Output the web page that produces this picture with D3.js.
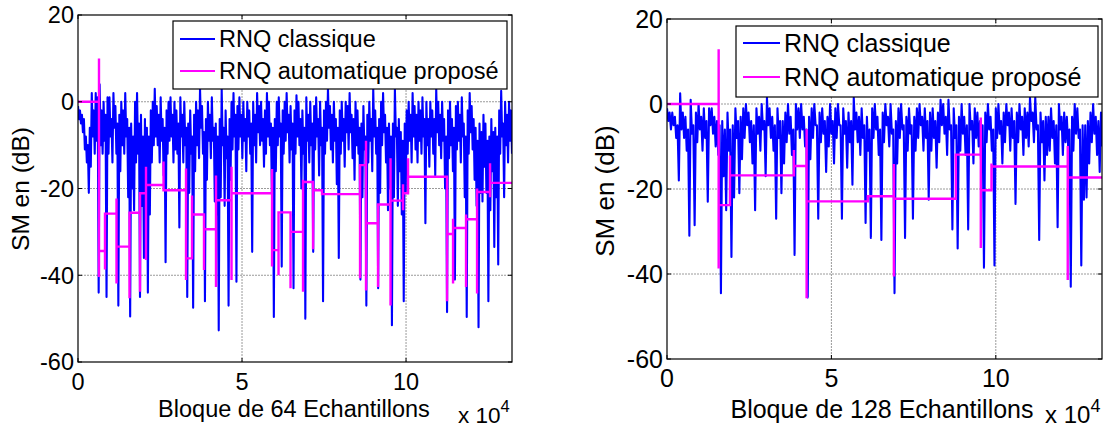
<!DOCTYPE html>
<html>
<head>
<meta charset="utf-8">
<script src="https://cdn.jsdelivr.net/npm/d3@7"></script>
<style>
  body { margin: 0; background: #fff; }
  text { font-family: Arial, "Liberation Sans", sans-serif; fill: #000; }
</style>
</head>
<body>
<svg id="chart" width="1104" height="428"></svg>
<script>
// axis ticks
var xTicks = [0, 50000, 100000];
var xTickLabels = ["0", "5", "10"];
var yTicks = [20, 0, -20, -40, -60];
var legendLabels = ["RNQ classique", "RNQ automatique proposé"];

// ---- left panel : blocks of 64 samples ----
// classic RNQ, max / min of each 600-sample bin (dB)
var blue64Step = 600;
var blue64Hi = [
  -1, -2, -3, -4, -8, -10, -6, 2, -2, 2,
  1, 4, -2, 0, -3, 1, 1, -4, 2, -1,
  -5, -3, 0, -2, 2, -4, -6, -5, -8, 0,
  2, -5, -3, -8, -4, -6, -8, -2, 0, 3,
  -1, -3, 1, -4, -6, -2, 0, 1, -3, 0,
  -2, -5, 1, -3, 0, -6, -5, -2, -8, -3,
  0, -2, 3, -1, -7, -4, 0, -3, 1, -6,
  -5, -8, -4, 3, -6, -2, -8, -4, 0, 2,
  -3, -1, 1, -3, 0, -4, 0, -2, -5, 0,
  -3, 2, -1, 0, -4, -2, 2, 0, -5, -6,
  -4, 0, 1, -5, -2, 0, 2, -3, -1, -5,
  -2, 1.5, 0, -4, -2, -6, 1, -3, 0, -5,
  -1, 1, -4, 0, -6, -2, 0, 3, -1, -3,
  0, -4, -6, -2, 0, -4, 0, -1, 2, -3,
  -4, 0, -2, -6, -5, -1, -8, -3, 0, -4,
  3, -2, -6, -4, 0, 2, -3, -6, -5, -8,
  -5, 3, -6, -4, -7, -9, -5, -2, 0, -3,
  2, -1, -3, 0, -2, 1, -4, 0, -4, 0,
  -2, -4, 3, 0, -3, 0, -4, -8, -2, 0,
  -4, -6, -1, 0, -3, 1, -5, -8, -2, 2,
  -1, -4, -6, -9, -5, -7, -3, -5, -9, -8,
  -4, -7, -6, -8, -2, 2.5, -5, 0, -3, 0, -2
];
var blue64Lo = [
  -4, -5, -7, -11, -14, -21, -15, -8, -12, -9,
  -44, -10, -12, -9, -45, -12, -8, -14, -6, -12,
  -47, -16, -10, -12, -8, -22, -49.5, -20, -25, -14,
  -12, -45, -24, -36, -22, -44, -26, -14, -10, -8,
  -10, -14, -9, -17, -37, -12, -9, -8, -14, -11,
  -12, -29, -8, -14, -10, -45, -21, -12, -47.5, -16,
  -10, -13, -6, -12, -46, -18, -9, -13, -9, -23,
  -26, -52.7, -22, -10, -24, -13, -47, -18, -11, -8,
  -41.5, -11, -8, -13, -9, -16, -8, -12, -34.6, -10,
  -14, -7, -10, -9, -15, -12, -8, -10, -21, -49.6,
  -16, -10, -8, -38, -12, -9, -7, -14, -11, -43,
  -12, -8, -10, -20, -12, -50, -9, -14, -10, -34.6,
  -11, -8, -17, -10, -46, -12, -9, -6, -11, -14,
  -9, -19, -36, -12, -9, -15, -7, -11, -7, -13,
  -18, -10, -12, -41, -22, -11, -47, -14, -9, -16,
  -8, -12, -43, -21, -10, -7, -14, -25, -20, -51.5,
  -22, -8, -24, -16, -26, -46, -21, -12, -9, -14,
  -8, -11, -14, -9, -12, -8, -28, -10, -15, -8,
  -12, -17, -7, -10, -13, -9, -20, -48.5, -13, -10,
  -16, -41, -11, -9, -14, -8, -22, -49.6, -12, -7,
  -11, -18, -24, -52, -21, -23, -15, -21, -46, -25,
  -16, -33.5, -22, -37.5, -12, -8, -22, -10, -14, -9, -12
];
// proposed automatic RNQ: step levels, switch points and spike extents
var auto64Levels = [0, -34.4, -25.8, -33.4, -25.6, -21.1, -19.2, -20.4, -36.1, -26,
  -29.4, -22.7, -21.1, -34.2, -25.5, -30, -18.5, -20.4, -21.3, -14.6,
  -28, -23.7, -22.8, -21.1, -17.3, -30.5, -29.1, -27.1, -20.8, -18.7];
var auto64Switch = [6400, 8230, 11740, 15700, 18900, 20730, 26070, 32930, 34760, 38410,
  42070, 46800, 59150, 61130, 64790, 68600, 71650, 74390, 85980, 87800,
  91460, 95270, 99080, 100610, 112500, 114330, 118290, 121650, 125610];
var auto64SpikeHi = [10, -25.8, -22.3, -25.6, -20.8, -15, -13.8, -15.4, -21.6, -26,
  -17, -15, -15.5, -25.5, -25.5, -18, -18.5, -20.4, -14.6, -9,
  -23.7, -13, -19, -13, -17.3, -27, -26, -20, -14.2];
var auto64SpikeLo = [-40.4, -38.7, -41.9, -45.3, -43.8, -36.5, -20.4, -41.1, -36.1, -38.8,
  -42.7, -41.1, -38, -40, -43, -43.8, -34, -21.3, -40.7, -43.5,
  -42.7, -47, -25, -21.1, -46, -41.9, -42.7, -44.2, -22];

// ---- right panel : blocks of 128 samples ----
var blue128Step = 800;
var blue128Hi = [
  -1, -2, -2, -3, -5, 2.5, -2, -3, -6, 1,
  -5, -2, 0, -3, -1, -4, -1, -1, -3, -4,
  -5, -4, -6, -2, -6, -5, -1, -4, -3, -1,
  0, -2, -4, -5, -1, -3, 0, -4, 1.5, -1,
  -3, -5, -1, -4, -4, -2, 0, -3, -6, 0,
  -1, 0, -3, -6, -3, -1, 0, -5, -2, -1,
  -4, -3, 0, -4, -1, 0, -5, -1, -4, -2,
  -4, 1.5, -2, -3, -1, -5, -3, -6, -1, 0,
  -3, -6, -2, 0, -3, 0, -6, -4, -1, 0,
  -5, -3, -1, -5, -3, -1, 0, -3, -1, -4,
  -2, -1, -4, -2, 1, 0, -3, 1, -5, -1,
  -5, -3, 0, -3, -5, 0, -4, -1, -2, -4,
  -5, -2, 0, -3, -6, -1, 0, -4, -2, 0,
  -2, -1, -4, -2, 0, -3, -1, -2, 1.5, -2,
  1.5, -5, -2, -4, -3, -3, -1, -4, -5, 0,
  -3, -2, -3, -6, -3, 0, -1, -6, -5, -5,
  -4, -2, 0, -3, -4, -2
];
var blue128Lo = [
  -4, -6, -5, -8, -18, -6, -8, -11, -31, -7,
  -28.5, -9, -6, -11, -8, -23, -5, -7, -10, -12,
  -44.5, -17, -25, -11, -36, -22, -8, -21, -13, -8,
  -5, -9, -14, -25, -7, -11, -6, -17, -5, -8,
  -11, -27, -8, -21, -14, -9, -7, -12, -35.5, -6,
  -8, -6, -10, -45.5, -13, -8, -5, -27, -9, -7,
  -16, -10, -7, -14, -8, -5, -27, -7, -15, -9,
  -19, -6, -9, -12, -8, -28, -11, -31.5, -8, -6,
  -12, -32, -9, -5, -10, -7, -44.5, -14, -8, -6,
  -31.5, -11, -7, -27, -11, -8, -5, -11, -8, -22.5,
  -11, -8, -15, -9, -5, -7, -12, -6, -29.5, -8,
  -34, -11, -7, -12, -29.5, -6, -14, -8, -10, -16,
  -38.5, -9, -6, -11, -38, -8, -7, -14, -9, -5,
  -11, -8, -23.5, -9, -6, -12, -8, -10, -4, -9,
  -6, -32, -9, -18, -12, -11, -8, -14, -29, -6,
  -12, -9, -10, -43, -11, -7, -8, -38, -22.5, -22,
  -14, -9, -7, -12, -16, -10
];
var auto128Levels = [0, -23.8, -16.8, -14.6, -22.9, -21.7, -22.3, -11.9, -20.3, -14.7, -17.3];
var auto128Switch = [15710, 19150, 38600, 42460, 61090, 69000, 87840, 95440, 98690, 121880];
var auto128SpikeHi = [12.9, -12.1, -10.8, -5.9, -21.7, -14.1, -11.9, -3.2, -14, -9.9];
var auto128SpikeLo = [-38.7, -23.8, -16.8, -45.7, -22.9, -40.6, -22.3, -33.9, -20.3, -41.4];

var xMax = 132300;
var svg = d3.select("#chart");

// zig-zag through the max and min of every bin
function binPoints(hi, lo, step) {
  var pts = [];
  hi.forEach(function(h, i) {
    pts.push([i * step, h], [i * step + step / 2, lo[i]]);
  });
  return pts;
}

function stepPoints(levels, sw, hi, lo) {
  var pts = [[0, levels[0]]];
  sw.forEach(function(s, k) {
    pts.push([s, levels[k]], [s, hi[k]], [s, lo[k]], [s, levels[k + 1]]);
  });
  pts.push([xMax, levels[levels.length - 1]]);
  return pts;
}

function drawPanel(p) {
  var x = d3.scaleLinear().domain([0, xMax]).range([p.left, p.right]);
  var y = d3.scaleLinear().domain([-60, 20]).range([p.bottom, p.top]);
  var g = svg.append("g");
  var fs = p.font + "px";

  g.append("clipPath").attr("id", p.id)
    .append("rect")
    .attr("x", p.left).attr("y", p.top)
    .attr("width", p.right - p.left).attr("height", p.bottom - p.top);

  // grid
  g.selectAll(".gx").data(xTicks.slice(1)).enter().append("line")
    .attr("x1", function(d) { return x(d); }).attr("x2", function(d) { return x(d); })
    .attr("y1", p.top).attr("y2", p.bottom)
    .attr("stroke", "#9a9a9a").attr("stroke-dasharray", "2,1");
  g.selectAll(".gy").data(yTicks.slice(1, 4)).enter().append("line")
    .attr("y1", function(d) { return y(d); }).attr("y2", function(d) { return y(d); })
    .attr("x1", p.left).attr("x2", p.right)
    .attr("stroke", "#9a9a9a").attr("stroke-dasharray", "2,1");

  var line = d3.line().x(function(d) { return x(d[0]); }).y(function(d) { return y(d[1]); });
  var plot = g.append("g").attr("clip-path", "url(#" + p.id + ")");

  plot.append("path")
    .datum(binPoints(p.hi, p.lo, p.step))
    .attr("d", line).attr("fill", "none")
    .attr("stroke", "#0000ff").attr("stroke-width", 2.1).attr("stroke-linejoin", "round");

  plot.append("path")
    .datum(stepPoints(p.levels, p.sw, p.spHi, p.spLo))
    .attr("d", line).attr("fill", "none")
    .attr("stroke", "#ff00ff").attr("stroke-width", 2.4);

  // box + ticks
  g.append("rect")
    .attr("x", p.left).attr("y", p.top)
    .attr("width", p.right - p.left).attr("height", p.bottom - p.top)
    .attr("fill", "none").attr("stroke", "#000").attr("stroke-width", 1.2);

  xTicks.forEach(function(t, k) {
    g.append("line").attr("x1", x(t)).attr("x2", x(t)).attr("y1", p.bottom).attr("y2", p.bottom - 4).attr("stroke", "#000");
    g.append("line").attr("x1", x(t)).attr("x2", x(t)).attr("y1", p.top).attr("y2", p.top + 4).attr("stroke", "#000");
    g.append("text").attr("x", x(t)).attr("y", p.bottom + 28)
      .attr("text-anchor", "middle").style("font-size", fs).text(xTickLabels[k]);
  });
  yTicks.forEach(function(t) {
    g.append("line").attr("x1", p.left).attr("x2", p.left + 4).attr("y1", y(t)).attr("y2", y(t)).attr("stroke", "#000");
    g.append("line").attr("x1", p.right).attr("x2", p.right - 4).attr("y1", y(t)).attr("y2", y(t)).attr("stroke", "#000");
    g.append("text").attr("x", p.left - 4).attr("y", y(t)).attr("dy", "0.36em")
      .attr("text-anchor", "end").style("font-size", fs).text(t);
  });

  // axis labels
  g.append("text").attr("x", p.xlabX).attr("y", p.xlabY)
    .attr("text-anchor", "middle").style("font-size", fs).text(p.xlabel);
  var ex = g.append("text").attr("x", p.expX).attr("y", p.expY).style("font-size", (p.font - 1) + "px");
  ex.append("tspan").text("x 10");
  ex.append("tspan").attr("dy", -11).style("font-size", (p.font - 7) + "px").text("4");
  g.append("text")
    .attr("transform", "translate(" + p.ylabX + "," + p.ylabY + ") rotate(-90)")
    .attr("text-anchor", "middle").style("font-size", (p.font + 1) + "px").text("SM en (dB)");

  // legend
  var L = p.legend;
  g.append("rect").attr("x", L.x).attr("y", L.y).attr("width", L.w).attr("height", L.h)
    .attr("fill", "#fff").attr("stroke", "#000").attr("stroke-width", 1.2);
  ["#0000ff", "#ff00ff"].forEach(function(c, k) {
    var ly = L.y + L.row0 + k * L.gap;
    g.append("line").attr("x1", L.x + 7).attr("x2", L.x + 7 + L.len)
      .attr("y1", ly).attr("y2", ly).attr("stroke", c).attr("stroke-width", 2);
    g.append("text").attr("x", L.x + 11 + L.len).attr("y", ly).attr("dy", "0.36em")
      .style("font-size", fs).text(legendLabels[k]);
  });
}

drawPanel({
  id: "clipL", left: 78, right: 512, top: 15, bottom: 362, font: 23.5,
  hi: blue64Hi, lo: blue64Lo, step: blue64Step,
  levels: auto64Levels, sw: auto64Switch, spHi: auto64SpikeHi, spLo: auto64SpikeLo,
  xlabel: "Bloque de 64 Echantillons", xlabX: 294, xlabY: 417,
  expX: 458, expY: 423, ylabX: 29, ylabY: 189,
  legend: { x: 173, y: 21, w: 334, h: 68, row0: 18, gap: 32, len: 35 }
});

drawPanel({
  id: "clipR", left: 667, right: 1102, top: 19, bottom: 359, font: 25,
  hi: blue128Hi, lo: blue128Lo, step: blue128Step,
  levels: auto128Levels, sw: auto128Switch, spHi: auto128SpikeHi, spLo: auto128SpikeLo,
  xlabel: "Bloque de 128 Echantillons", xlabX: 882, xlabY: 418,
  expX: 1045, expY: 423, ylabX: 614, ylabY: 191,
  legend: { x: 736, y: 26, w: 362, h: 71, row0: 17, gap: 34, len: 37 }
});
</script>
</body>
</html>
